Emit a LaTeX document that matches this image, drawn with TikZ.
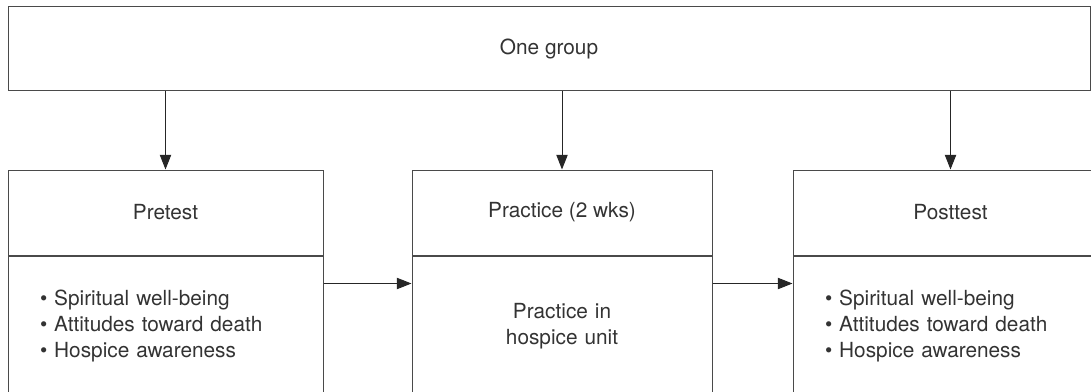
\documentclass[tikz,border=0pt]{standalone}
\usepackage{fontspec}
\setmainfont{TeX Gyre Heros}
\usepackage{tikz}
\usetikzlibrary{arrows.meta}
\usetikzlibrary{positioning}
\definecolor{inkgray}{HTML}{333333}
\definecolor{linegray}{HTML}{4A4A4A}
\tikzset{
	box/.style={draw=linegray, line width=0.75pt, rectangle, text=inkgray,
		font=\fontsize{15.6pt}{19.5pt}\selectfont, inner sep=0pt},
	headbox/.style={box, minimum width=236.25pt, minimum height=63.75pt},
	midhead/.style={box, minimum width=225pt, minimum height=63.75pt},
	bodybox/.style={box, inner xsep=24pt, text width=188.25pt, align=left, minimum height=105pt},
	midbody/.style={box, inner xsep=24pt, text width=177pt, align=center, minimum height=105pt},
	flow/.style={draw=black!85, line width=0.75pt, -{Triangle[length=11pt, width=8.5pt]}},
}

\begin{document}
\begin{tikzpicture}[x=0.75pt, y=-0.75pt]
	\useasboundingbox (0,0) rectangle (1091,392);
	\node[box, minimum width=811.5pt, minimum height=63pt] (group) at (549,49) {One group};
	% the three stages
	\node[headbox] (pre) at (165.5,212.5) {Pretest};
	\node[midhead, right=66pt of pre] (mid) {Practice (2 wks)};
	\node[headbox, right=60pt of mid] (post) {Posttest};
	\node[bodybox, below=0pt of pre] (prebody) {%
		\textbullet\ Spiritual well-being\\
		\textbullet\ Attitudes toward death\\
		\textbullet\ Hospice awareness};
	\node[midbody, below=0pt of mid] (midbody) {Practice in\\hospice unit};
	\node[bodybox, below=0pt of post] (postbody) {%
		\textbullet\ Spiritual well-being\\
		\textbullet\ Attitudes toward death\\
		\textbullet\ Hospice awareness};
	\draw[flow] (group.south -| pre.north) -- (pre.north);
	\draw[flow] (group.south -| mid.north) -- (mid.north);
	\draw[flow] (group.south -| post.north) -- (post.north);
	\draw[flow] ([yshift=-21pt]prebody.north east) -- ([yshift=-21pt]midbody.north west);
	\draw[flow] ([yshift=-21pt]midbody.north east) -- ([yshift=-21pt]postbody.north west);
\end{tikzpicture}
\end{document}
